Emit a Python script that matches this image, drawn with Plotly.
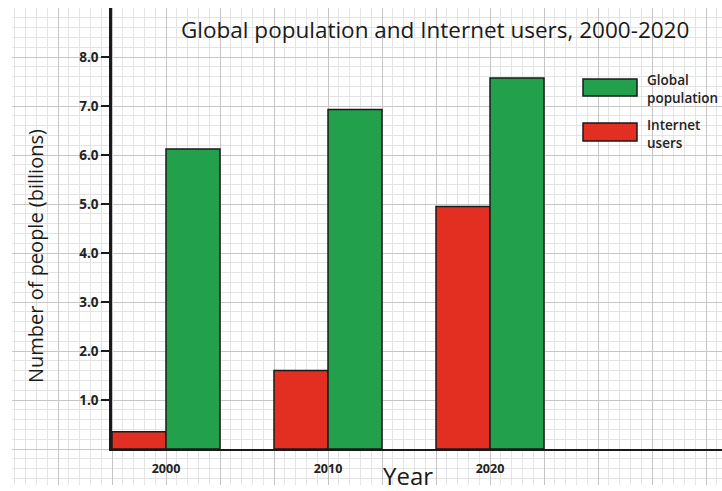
import plotly.graph_objects as go

years = ["2000", "2010", "2020"]
internet_users = [0.35, 1.60, 4.95]
global_population = [6.12, 6.93, 7.57]
y_tick_vals = [1, 2, 3, 4, 5, 6, 7, 8]
y_tick_text = ["1.0", "2.0", "3.0", "4.0", "5.0", "6.0", "7.0", "8.0"]

W, H = 722, 491
FONT = "Open Sans"
GREEN = "#22a04b"
RED = "#e32e22"

fig = go.Figure()

# background graph-paper axis (pixel units)
fig.add_trace(go.Scatter(x=[None], y=[None], xaxis="x", yaxis="y",
                         showlegend=False, hoverinfo="skip"))

fig.add_trace(go.Bar(name="Internet users", x=years, y=internet_users,
                     marker=dict(color=RED, line=dict(color="#1a1a1a", width=1.5)),
                     xaxis="x2", yaxis="y2", showlegend=False))
fig.add_trace(go.Bar(name="Global population", x=years, y=global_population,
                     marker=dict(color=GREEN, line=dict(color="#1a1a1a", width=1.5)),
                     xaxis="x2", yaxis="y2", showlegend=False))

x0_pix = 112
cell_w = 54
y0_pix = 449
unit_h = 49

grid_x_domain = [12 / W, 1]
grid_y_domain = [6 / H, 483 / H]

fig.update_layout(
    width=W, height=H,
    margin=dict(l=0, r=0, t=0, b=0),
    paper_bgcolor="white", plot_bgcolor="rgba(0,0,0,0)",
    barmode="group", bargap=1/3, bargroupgap=0,
    xaxis=dict(domain=grid_x_domain, range=[12, W], tick0=x0_pix, dtick=cell_w,
               showgrid=True, gridcolor="#c6c6c6", gridwidth=1.3,
               minor=dict(tick0=x0_pix, dtick=cell_w / 5, showgrid=True,
                          gridcolor="#e4e4e4", gridwidth=1),
               showticklabels=False, zeroline=False, fixedrange=True),
    yaxis=dict(domain=grid_y_domain, range=[H - 485, H - 8], tick0=H - y0_pix, dtick=unit_h,
               showgrid=True, gridcolor="#c6c6c6", gridwidth=1.3,
               minor=dict(tick0=H - y0_pix, dtick=unit_h / 5, showgrid=True,
                          gridcolor="#e4e4e4", gridwidth=1),
               showticklabels=False, zeroline=False, fixedrange=True),
    xaxis2=dict(domain=[x0_pix / W, 1], anchor="y2", type="category",
                range=[-1/3, -1/3 + (W - x0_pix) / (3 * cell_w)],
                showline=True, linecolor="#1a1a1a", linewidth=2,
                showgrid=False, zeroline=False,
                ticks="outside", ticklen=7, tickcolor="rgba(0,0,0,0)",
                tickfont=dict(family=FONT, size=12.5, color="#222", weight="bold")),
    yaxis2=dict(domain=[(H - y0_pix) / H, (H - 8) / H], anchor="x2",
                range=[0, (y0_pix - 8) / unit_h],
                showline=True, linecolor="#1a1a1a", linewidth=2.5,
                showgrid=False, zeroline=False,
                tickvals=y_tick_vals, ticktext=y_tick_text,
                ticks="outside", ticklen=8, tickwidth=1.5, tickcolor="#1a1a1a",
                tickfont=dict(family=FONT, size=13.5, color="#222", weight="bold")),
    showlegend=False,
)

# title and axis titles
fig.add_annotation(text="Global population and Internet users, 2000-2020",
                   x=435 / W, y=(H - 30) / H, xref="paper", yref="paper",
                   showarrow=False, xanchor="center", yanchor="middle",
                   font=dict(family=FONT, size=22.5, color="#1a1a1a"))
fig.add_annotation(text="Number of people (billions)",
                   x=35 / W, y=(H - 256) / H, xref="paper", yref="paper",
                   showarrow=False, textangle=-90, xanchor="center", yanchor="middle",
                   font=dict(family=FONT, size=20, color="#1a1a1a"))
fig.add_annotation(text="Year",
                   x=408 / W, y=0, xref="paper", yref="paper",
                   showarrow=False, xanchor="center", yanchor="bottom", yshift=-3,
                   font=dict(family=FONT, size=24, color="#1a1a1a"))

# legend (drawn)
legend_items = [("Global<br>population", GREEN, 79, 96, 89),
                ("Internet<br>users", RED, 123, 141, 134)]
for label, col, top, bot, mid in legend_items:
    fig.add_shape(type="rect", xref="paper", yref="paper",
                  x0=583 / W, x1=637 / W, y0=(H - bot) / H, y1=(H - top) / H,
                  fillcolor=col, line=dict(color="#1a1a1a", width=1.5))
    fig.add_annotation(text=label, x=645 / W, y=(H - mid) / H, xref="paper", yref="paper",
                       showarrow=False, xanchor="left", yanchor="middle", align="left",
                       font=dict(family=FONT, size=13.5, color="#222", weight=600))

fig.write_html("out.html", config={"displayModeBar": False},
               post_script="document.body.style.margin='0';")
